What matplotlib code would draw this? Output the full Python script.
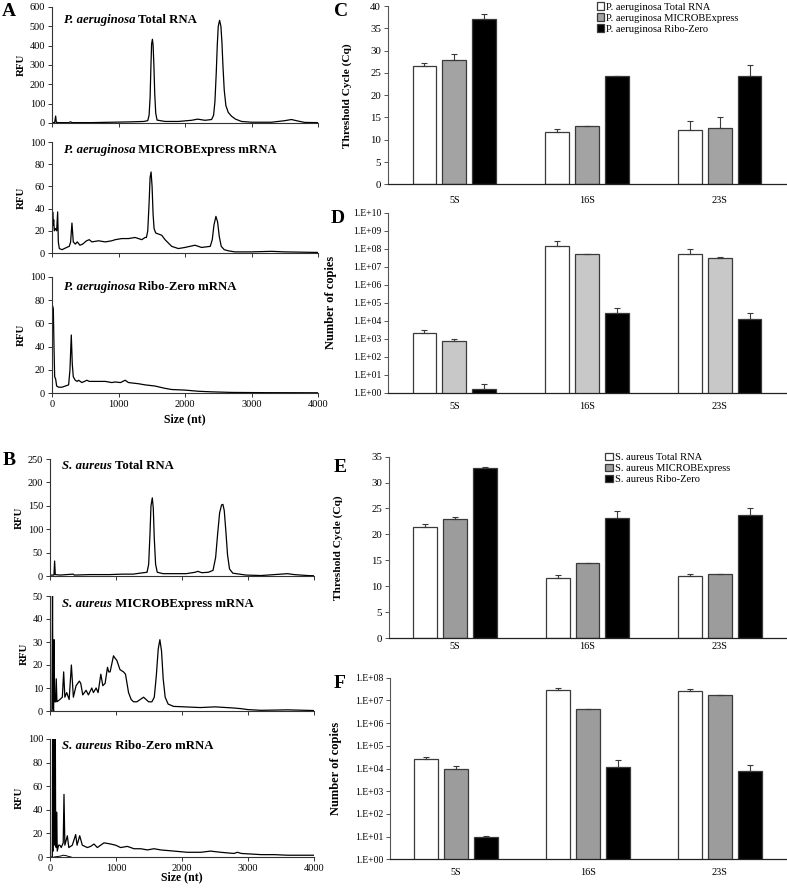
import numpy as np
import matplotlib
matplotlib.use("Agg")
import matplotlib.pyplot as plt
from matplotlib.ticker import FixedLocator, FuncFormatter, NullLocator

plt.rcParams['font.family'] = ['Liberation Serif', 'DejaVu Serif']

# ---- electropherogram traces (size in nt, RFU) ----
pa_total_size = [0, 40, 55, 65, 100, 250, 280, 300, 600, 900, 1200, 1380, 1440, 1460, 1475, 1488,
                 1498, 1510, 1520, 1532, 1545, 1560, 1580, 1700, 1900, 2100, 2190, 2300, 2400,
                 2430, 2450, 2470, 2485, 2500, 2520, 2540, 2555, 2570, 2590, 2615, 2650, 2700,
                 2760, 2850, 3000, 3300, 3500, 3600, 3700, 3800, 4000]
pa_total_rfu = [2, 2, 36, 3, 2, 2, 6, 2, 2, 4, 6, 8, 12, 40, 130, 300,
                410, 433, 405, 300, 150, 50, 15, 8, 8, 14, 20, 14, 18,
                40, 110, 260, 400, 500, 531, 500, 420, 300, 170, 90, 55, 35,
                20, 8, 4, 4, 12, 18, 10, 3, 2]

pa_mex_size = [0, 10, 18, 25, 35, 50, 70, 85, 95, 110, 150, 220, 260, 280, 300, 320, 350, 380,
               420, 460, 520, 560, 600, 700, 800, 900, 950, 1050, 1150, 1250, 1350, 1400, 1420,
               1440, 1460, 1475, 1490, 1505, 1520, 1535, 1560, 1650, 1700, 1800, 1900, 2000,
               2150, 2250, 2380, 2410, 2435, 2465, 2490, 2515, 2545, 2590, 2650, 2750, 3000,
               3300, 3500, 4000]
pa_mex_rfu = [0, 37, 25, 30, 20, 22, 20, 37, 10, 4, 3, 5, 6, 10, 27, 10, 8, 10,
              7, 8, 11, 12, 10, 11, 10, 11, 12, 13, 13, 14, 12, 14, 14,
              20, 45, 68, 73, 60, 35, 22, 18, 16, 12, 6, 4, 5,
              7, 5, 6, 12, 25, 33, 28, 15, 6, 3, 2, 1, 1,
              1.5, 1, 0.5]

pa_rz_size = [0, 8, 20, 30, 40, 55, 70, 100, 150, 200, 250, 270, 290, 305, 320, 350, 380, 400,
              450, 525, 560, 600, 800, 900, 950, 1030, 1100, 1150, 1300, 1400, 1550, 1700,
              1800, 2000, 2200, 2400, 2700, 3200, 4000]
pa_rz_rfu = [0, 75, 72, 40, 14, 12, 6, 5, 5, 6, 7, 20, 50, 25, 14, 11, 10, 11,
             9, 11, 10, 10, 10, 9, 9.5, 9, 11, 9, 8, 7, 6, 4,
             3, 2.5, 1.5, 1, 0.5, 0.3, 0.2]

sa_total_size = [0, 60, 70, 80, 150, 350, 370, 600, 900, 1100, 1260, 1360, 1470, 1495, 1515,
                 1530, 1550, 1565, 1580, 1600, 1625, 1713, 2065, 2200, 2240, 2300, 2400, 2470,
                 2510, 2540, 2570, 2600, 2620, 2640, 2665, 2690, 2720, 2770, 2970, 3200, 3500,
                 3600, 3700, 3900, 4000]
sa_total_rfu = [2, 2, 32, 3, 2, 4, 2, 3, 3, 4, 4, 6, 8, 25, 90,
                150, 167, 145, 80, 25, 8, 5, 5, 8, 10, 7, 8, 12,
                40, 90, 135, 152, 153, 140, 95, 45, 15, 6, 2, 1, 4,
                5, 3, 1, 0.5]

sa_mex_size = [0, 30, 38, 45, 55, 62, 70, 85, 95, 105, 150, 187, 207, 225, 253, 290, 324, 354,
               395, 445, 466, 496, 547, 582, 633, 658, 699, 729, 770, 800, 835, 871, 890, 911,
               962, 985, 1013, 1060, 1114, 1144, 1190, 1230, 1266, 1316, 1418, 1494, 1544,
               1580, 1610, 1640, 1665, 1690, 1715, 1745, 1790, 1873, 2278, 2500, 2785, 2900,
               3000, 3200, 3600, 4000]
sa_mex_rfu = [0, 0, 50, 2, 0, 31, 4, 4, 14, 4, 5, 6, 17, 6, 8, 5, 20, 6,
              11, 13, 12, 7, 9, 7, 10, 8, 10, 8, 16, 11, 12, 19, 17, 17,
              24, 23, 22, 18, 17, 16, 8, 5, 4, 4, 6, 4, 4,
              6, 15, 27, 31, 26, 14, 6, 3, 2, 1.5, 1.8, 1.3, 1,
              0.6, 0.3, 0.5, 0.2]

sa_rz_size = [0, 35, 40, 50, 60, 70, 80, 86, 95, 100, 110, 130, 150, 170, 200, 212, 225, 263,
              285, 338, 389, 410, 450, 490, 566, 616, 667, 717, 818, 919, 995, 1070, 1172,
              1273, 1374, 1475, 1576, 1677, 1879, 2080, 2283, 2434, 2586, 2788, 2838, 2900,
              3200, 3400, 3600, 3800, 4000]
sa_rz_rfu = [0, 0, 120, 5, 120, 10, 120, 10, 8, 38, 5, 10, 10, 8, 12, 53, 10, 18,
             8, 10, 19, 10, 18, 10, 8, 9, 11, 8, 12, 11, 10, 8, 9,
             7, 7, 6, 7, 6, 5, 4, 4, 5, 4, 3, 4, 3,
             2, 2, 1.5, 1.5, 1.5]
sa_rz_low_size = [60, 100, 160, 200, 240, 280, 320]
sa_rz_low_rfu = [0, 0.3, 0.8, 1.5, 1.2, 0.5, 0]

# ---- qPCR bars ----
rrna = ["5S", "16S", "23S"]

pa_cq_total = [26.6, 11.8, 12.1]
pa_cq_total_err = [0.7, 0.6, 2.1]
pa_cq_mex = [27.9, 13.2, 12.7]
pa_cq_mex_err = [1.3, 0.0, 2.3]
pa_cq_rz = [37.0, 24.4, 24.4]
pa_cq_rz_err = [1.2, 0.0, 2.3]

pa_cp_total = [2.1e3, 1.5e8, 5.3e7]
pa_cp_total_err = [1.1e3, 1.2e8, 4.3e7]
pa_cp_mex = [7.7e2, 5.3e7, 3.0e7]
pa_cp_mex_err = [2.3e2, 0.0, 5e6]
pa_cp_rz = [1.6, 2.6e4, 1.2e4]
pa_cp_rz_err = [1.6, 2.7e4, 1.4e4]

sa_cq_total = [21.5, 11.6, 12.0]
sa_cq_total_err = [0.5, 0.6, 0.4]
sa_cq_mex = [22.9, 14.4, 12.4]
sa_cq_mex_err = [0.4, 0.0, 0.0]
sa_cq_rz = [32.8, 23.1, 23.8]
sa_cq_rz_err = [0.15, 1.5, 1.3]

sa_cp_total = [2.6e4, 2.8e7, 2.5e7]
sa_cp_total_err = [6e3, 6e6, 6e6]
sa_cp_mex = [1.0e4, 4.3e6, 1.8e7]
sa_cp_mex_err = [2.6e3, 0.0, 0.0]
sa_cp_rz = [9.3, 1.2e4, 8e3]
sa_cp_rz_err = [1.0, 1.2e4, 7e3]

fig = plt.figure(figsize=(7.87, 8.88), dpi=100)
W, H = 787.0, 888.0


def rect(x0, x1, ytop, ybot):
    return [x0 / W, 1 - ybot / H, (x1 - x0) / W, (ybot - ytop) / H]


def trace(r, size, rfu, ymax, ystep, species, rest, ty, xlabels=False, extra=None, xlpad=3):
    ax = fig.add_axes(r)
    ax.plot(size, rfu, color="black", lw=0.9)
    if extra is not None:
        ax.plot(extra[0], extra[1], color="black", lw=0.7)
    ax.set_xlim(0, 4000)
    ax.set_ylim(0, ymax)
    ax.set_xticks([0, 1000, 2000, 3000, 4000])
    ax.set_yticks(np.arange(0, ymax + 1, ystep))
    for s in ("top", "right"):
        ax.spines[s].set_visible(False)
    for s in ("left", "bottom"):
        ax.spines[s].set_color("#333333")
        ax.spines[s].set_linewidth(0.8)
    ax.tick_params(direction="out", length=3, width=0.7, labelsize=7.4, pad=2, colors="#333333",
                   labelcolor="black")
    if not xlabels:
        ax.tick_params(axis="x", labelbottom=False)
    else:
        ax.set_xlabel("Size (nt)", fontweight="bold", fontsize=8.5, labelpad=xlpad)
    ax.set_ylabel("RFU", fontweight="bold", fontsize=7.8, labelpad=3)
    t = ax.text(0.045, ty, species, transform=ax.transAxes, style="italic", fontweight="bold",
                fontsize=9.2, va="center", ha="left")
    ax.annotate(" " + rest, xy=(1, 0), xycoords=t, va="bottom", ha="left",
                fontweight="bold", fontsize=9.2)
    return ax


trace(rect(52, 318, 7, 123), pa_total_size, pa_total_rfu, 600, 100,
      "P. aeruginosa", "Total RNA", 0.885)
trace(rect(52, 318, 142, 253), pa_mex_size, pa_mex_rfu, 100, 20,
      "P. aeruginosa", "MICROBExpress mRNA", 0.925)
trace(rect(52, 318, 277, 393), pa_rz_size, pa_rz_rfu, 100, 20,
      "P. aeruginosa", "Ribo-Zero mRNA", 0.915, xlabels=True)
trace(rect(50, 314, 459, 576), sa_total_size, sa_total_rfu, 250, 50,
      "S. aureus", "Total RNA", 0.94)
trace(rect(50, 314, 596, 711), sa_mex_size, sa_mex_rfu, 50, 10,
      "S. aureus", "MICROBExpress mRNA", 0.93)
trace(rect(50, 314, 739, 857), sa_rz_size, sa_rz_rfu, 100, 20,
      "S. aureus", "Ribo-Zero mRNA", 0.94, xlabels=True, extra=(sa_rz_low_size, sa_rz_low_rfu),
      xlpad=-1)


def bars(r, series, errs, colors, labels, log=False, ylim=None, ystep=None,
         ylabel="", ylab_x=-0.1, xpad=6, leg_x=None, ylab_size=8.2):
    ax = fig.add_axes(r)
    x = np.arange(len(rrna))
    offs = [-0.225, 0.0, 0.225]
    handles = []
    for vals, err, c, lab, o in zip(series, errs, colors, labels, offs):
        b = ax.bar(x + o, vals, width=0.18, color=c, edgecolor="#3a3a3a", linewidth=0.9,
                   label=lab, zorder=2)
        handles.append(b)
        ax.errorbar(x + o, vals, yerr=[np.zeros(len(vals)), err], fmt="none",
                    ecolor="#3a3a3a", elinewidth=0.8, capsize=2.5, capthick=0.8, zorder=3)
    ax.set_xlim(-0.5, 2.5)
    if log:
        ax.set_yscale("log")
        ax.set_ylim(ylim)
        lo, hi = int(np.log10(ylim[0])), int(np.log10(ylim[1]))
        ax.yaxis.set_major_locator(FixedLocator([10.0 ** k for k in range(lo, hi + 1)]))
        ax.yaxis.set_major_formatter(FuncFormatter(lambda v, p: "1.E+%02d" % round(np.log10(v))))
        ax.yaxis.set_minor_locator(NullLocator())
        ysize = 6.9
    else:
        ax.set_ylim(ylim)
        ax.set_yticks(np.arange(ylim[0], ylim[1] + 0.1, ystep))
        ysize = 7.8
    ax.set_xticks(x)
    ax.set_xticklabels(rrna)
    for s in ("top", "right"):
        ax.spines[s].set_visible(False)
    ax.spines["left"].set_color("#555555")
    ax.spines["bottom"].set_color("#222222")
    ax.spines["left"].set_linewidth(0.8)
    ax.spines["bottom"].set_linewidth(0.9)
    ax.tick_params(axis="y", direction="out", length=3, width=0.7, labelsize=ysize, pad=2,
                   colors="#555555", labelcolor="black")
    ax.tick_params(axis="x", length=0, labelsize=7.4, pad=xpad)
    ax.set_ylabel(ylabel, fontweight="bold", fontsize=ylab_size)
    ax.yaxis.set_label_coords(ylab_x, 0.5)
    if leg_x is not None:
        ax.legend(handles=handles, loc="upper left", bbox_to_anchor=(leg_x, 1.02), frameon=False,
                  fontsize=7.6, handlelength=0.7, handleheight=0.7, handletextpad=0.2,
                  labelspacing=0.15, borderaxespad=0.0, borderpad=0.0)
    return ax


pa_labels = ["P. aeruginosa Total RNA", "P. aeruginosa MICROBExpress", "P. aeruginosa Ribo-Zero"]
sa_labels = ["S. aureus Total RNA", "S. aureus MICROBExpress", "S. aureus Ribo-Zero"]

bars(rect(388, 786, 6, 184.4), [pa_cq_total, pa_cq_mex, pa_cq_rz],
     [pa_cq_total_err, pa_cq_mex_err, pa_cq_rz_err], ["white", "#a3a3a3", "black"], pa_labels,
     ylim=(0, 40), ystep=5, ylabel="Threshold Cycle (Cq)", ylab_x=-0.09, xpad=8, leg_x=0.525)
bars(rect(388, 786, 212.7, 392.7), [pa_cp_total, pa_cp_mex, pa_cp_rz],
     [pa_cp_total_err, pa_cp_mex_err, pa_cp_rz_err], ["white", "#c8c8c8", "black"], pa_labels,
     log=True, ylim=(1, 1e10), ylabel="Number of copies", ylab_x=-0.128, xpad=7, ylab_size=9)
bars(rect(389, 786, 456.7, 638), [sa_cq_total, sa_cq_mex, sa_cq_rz],
     [sa_cq_total_err, sa_cq_mex_err, sa_cq_rz_err], ["white", "#9c9c9c", "black"], sa_labels,
     ylim=(0, 35), ystep=5, ylabel="Threshold Cycle (Cq)", ylab_x=-0.115, xpad=3, leg_x=0.545)
bars(rect(390, 786, 677.7, 859.3), [sa_cp_total, sa_cp_mex, sa_cp_rz],
     [sa_cp_total_err, sa_cp_mex_err, sa_cp_rz_err], ["white", "#9c9c9c", "black"], sa_labels,
     log=True, ylim=(1, 1e8), ylabel="Number of copies", ylab_x=-0.12, xpad=6, ylab_size=9)

# panel letters
for letter, px, py in [("A", 9, 12), ("C", 341, 11), ("D", 338, 218),
                       ("B", 9, 460), ("E", 340, 467), ("F", 340, 683)]:
    fig.text(px / W, 1 - py / H, letter, fontsize=14, fontweight="bold", ha="center", va="center")

fig.savefig("out.png", dpi=100)
